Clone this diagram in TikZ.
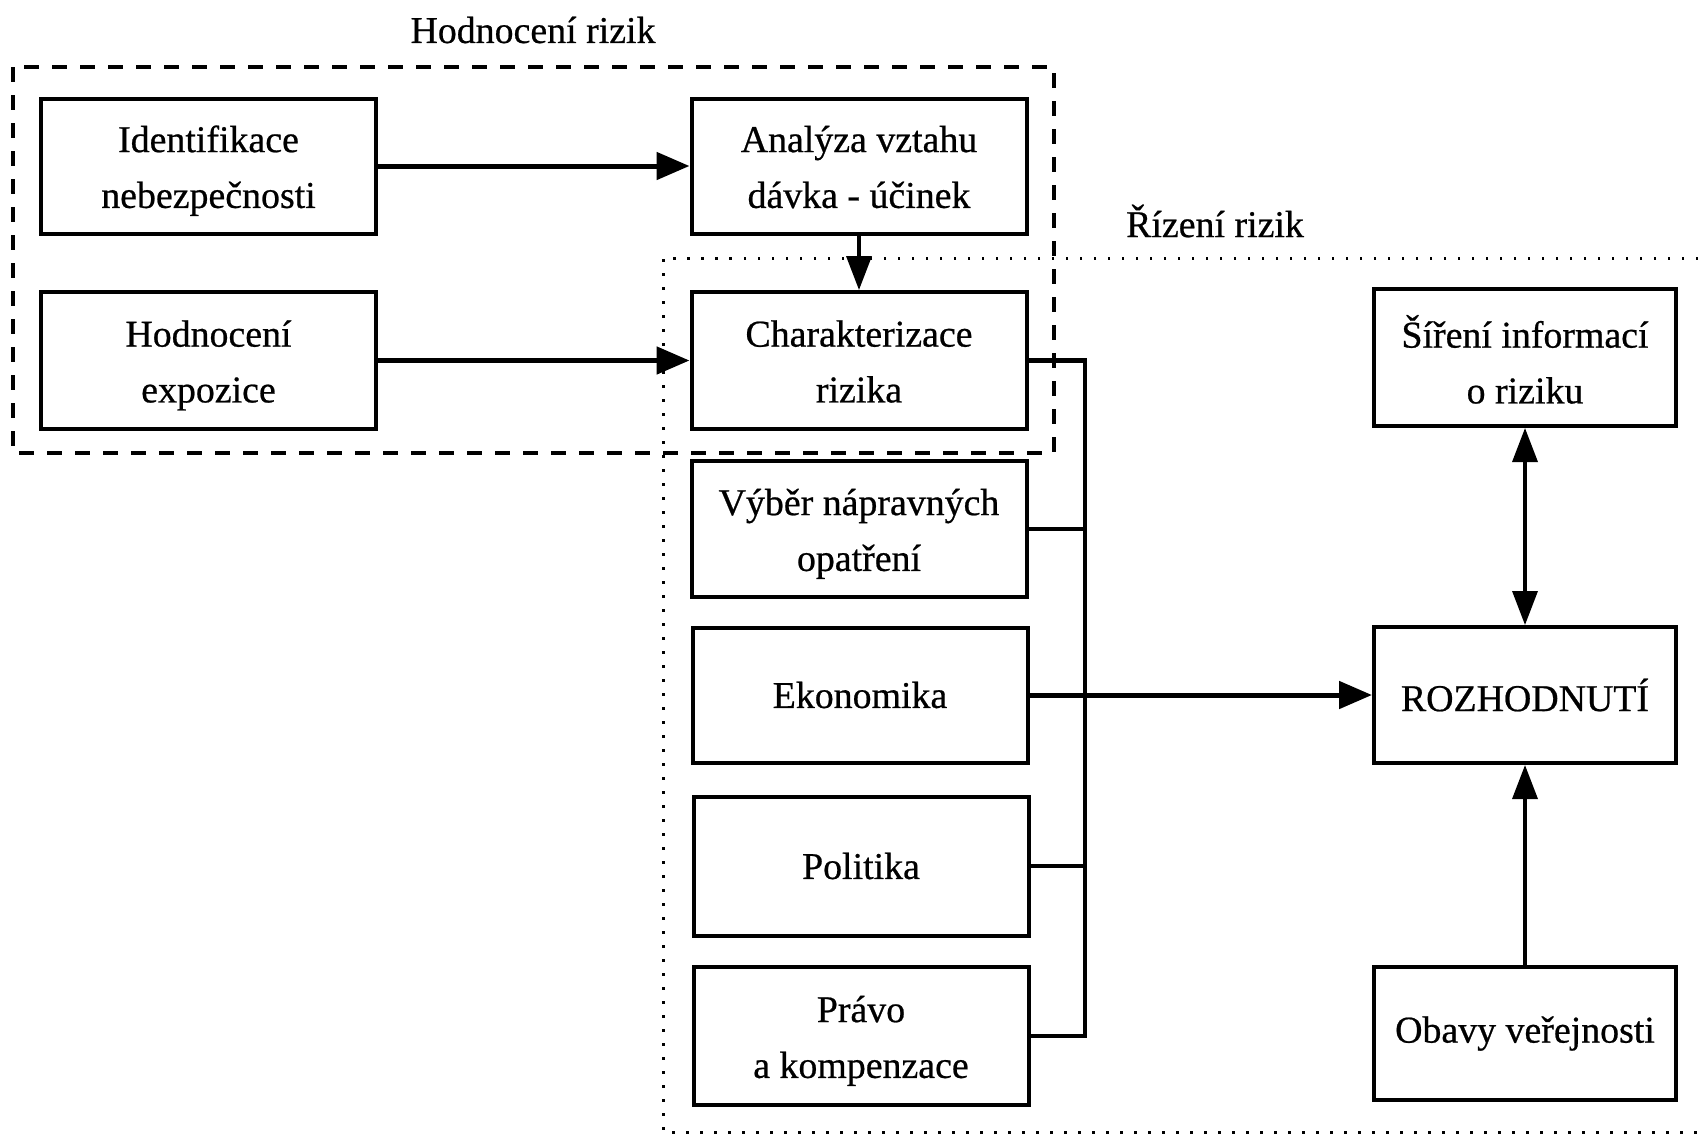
\documentclass[tikz,border=0pt]{standalone}
\usepackage{fontspec}
\setmainfont{Liberation Serif}[FakeBold=0.6]
\usetikzlibrary{arrows.meta}
\newcommand\toplinestrut{\rule{0pt}{38bp}}
\newcommand\tallstrut{\rule{0pt}{46bp}}
\newcommand\botlinestrut{\rule[-10bp]{0pt}{10bp}}
\begin{document}
\begin{tikzpicture}[x=1bp,y=-1bp,
  txt/.style={font=\fontsize{38}{56}\selectfont},
  box/.style={draw,line width=4bp,minimum width=335bp,minimum height=135bp,inner sep=0pt,align=center,txt},
  rbox/.style={box,minimum width=302bp},
  lbl/.style={txt,inner sep=0pt},
  conn/.style={line width=4.5bp},
  arr/.style={line width=5bp,-{Triangle[length=33bp,width=27bp]}},
  varr/.style={line width=3.5bp,-{Triangle[length=34bp,width=25bp]}},
  dbarr/.style={line width=3.5bp,{Triangle[length=34bp,width=25bp]}-{Triangle[length=34bp,width=25bp]}},
  dashframe/.style={line width=4.5bp,dash pattern=on 15bp off 13bp},
  dotframe/.style={line width=3bp,dash pattern=on 2.5bp off 11.5bp}]
\useasboundingbox (0,0) rectangle (1698,1138);
\fill[white] (0,0) rectangle (1698,1138);

% frames
\draw[dashframe] (13,67) rectangle (1054,453);
\draw[dotframe] (1698,258) -- (663,258) -- (663,1132) -- (1698,1132);
\node[lbl] (t1) at (533,30) {Hodnocení rizik};
\node[lbl] (t2) at (1215,221) {Řízení rizik};

% boxes
\node[box] (ident) at (208.5,166) {\toplinestrut Identifikace\\nebezpečnosti\botlinestrut};
\node[box] (analyza) at (859,166) {\toplinestrut Analýza vztahu\\dávka - účinek\botlinestrut};
\node[box,minimum height=137bp] (hodn) at (208.5,360.5) {\toplinestrut Hodnocení\\expozice\botlinestrut};
\node[box,minimum height=137bp] (char) at (859,360.5) {\toplinestrut Charakterizace\\rizika\botlinestrut};
\node[box,minimum height=136bp] (vyber) at (859,529) {\toplinestrut Výběr nápravných\\opatření\botlinestrut};
\node[box] (eko) at (860,695) {Ekonomika};
\node[box,minimum height=139bp] (pol) at (861,866) {Politika};
\node[box,minimum height=138bp] (pravo) at (861,1036) {\toplinestrut Právo\\a kompenzace\botlinestrut};
\node[rbox,minimum height=137bp] (sireni) at (1525,357.5) {\tallstrut Šíření informací\\o riziku\botlinestrut};
\node[rbox,minimum height=136bp] (roz) at (1525,695) {ROZHODNUTÍ};
\node[rbox,minimum height=133bp] (obavy) at (1525,1033.5) {Obavy veřejnosti};

% connectors
\draw[arr] (ident) -- (analyza);
\draw[arr] (hodn) -- (char);
\draw[varr] (analyza) -- (char);

\coordinate (bt) at (1085,360.5);
\coordinate (bb) at (1085,1036);
\draw[conn,line join=miter] (char.east) -- (bt) -- (bb) -- (pravo.east);
\draw[conn] (vyber.east) -- (vyber.east -| bt);
\draw[conn] (pol.east) -- (pol.east -| bt);
\draw[arr] (eko) -- (roz);

\draw[dbarr] (sireni) -- (roz);
\draw[varr] (obavy) -- (roz);
\end{tikzpicture}
\end{document}
